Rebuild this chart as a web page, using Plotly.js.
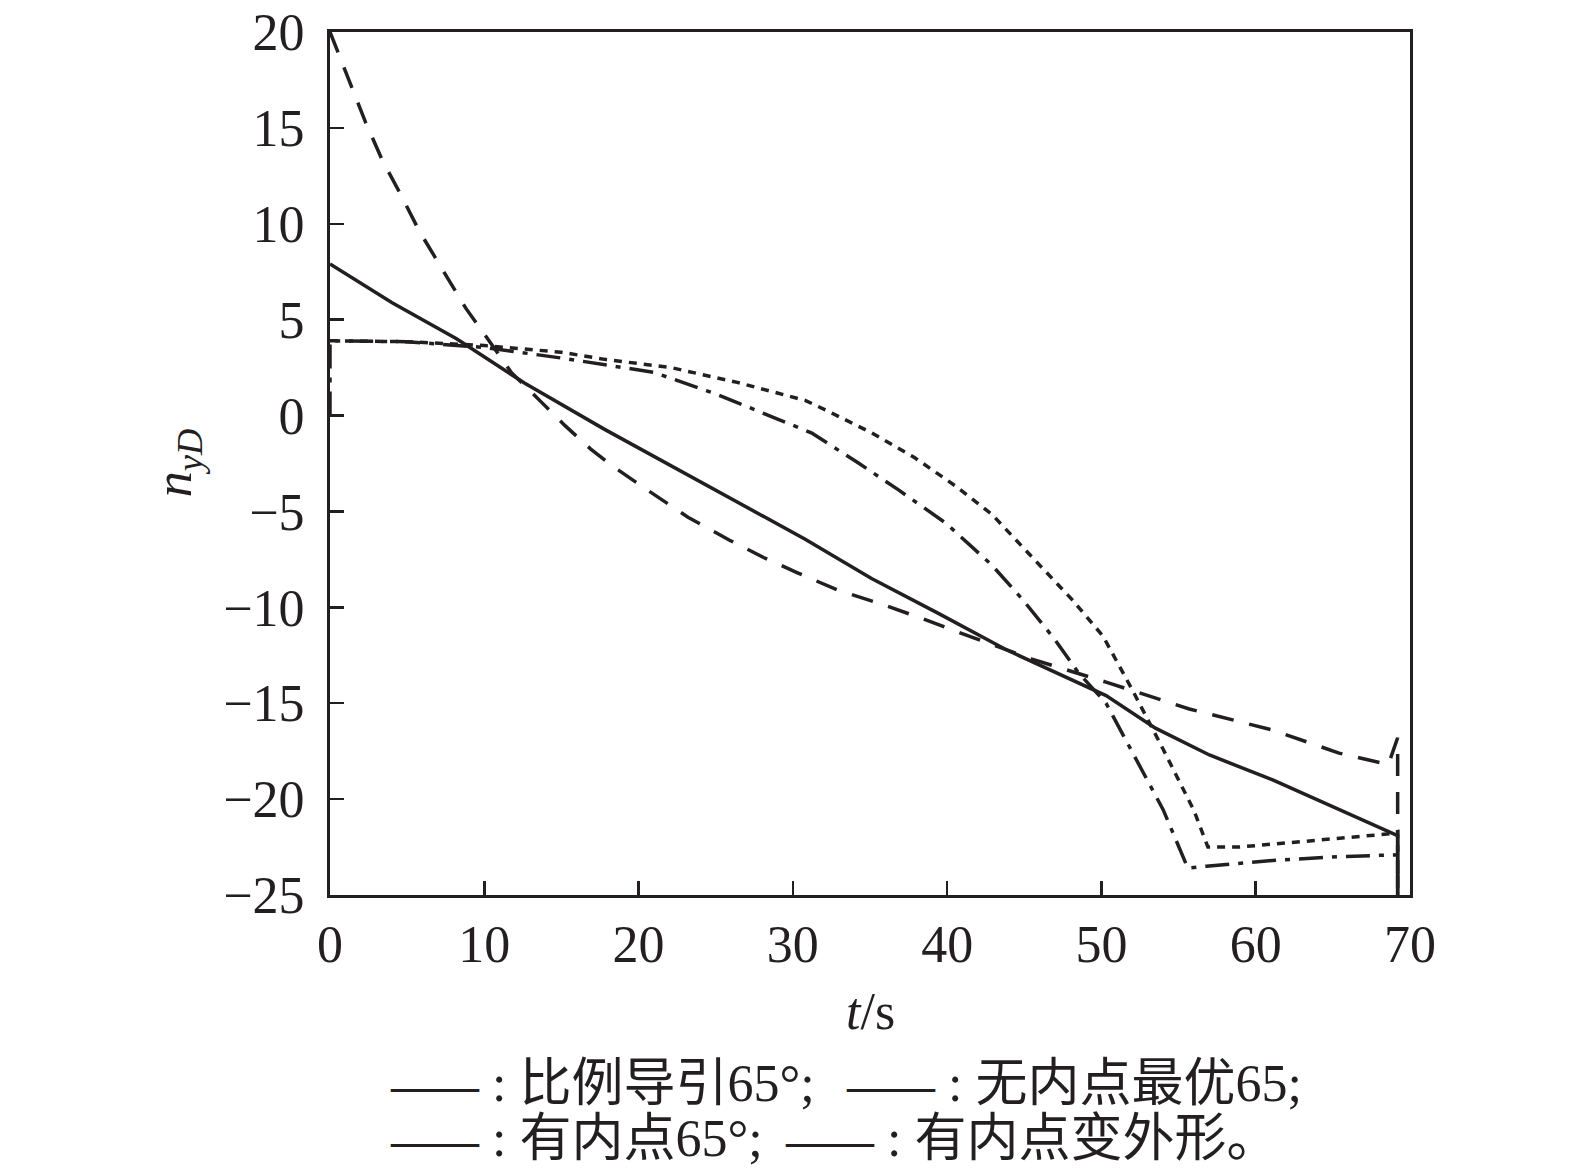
<!DOCTYPE html>
<html>
<head>
<meta charset="utf-8">
<script src="https://cdn.plot.ly/plotly-3.0.1.min.js"></script>
<style>
  html, body { margin: 0; padding: 0; background: #fff; }
  #chart { width: 1575px; height: 1169px; }
</style>
</head>
<body>
<div id="chart"></div>
<script>
// values (t in s, n_yD)
var tSolid = [0, 4, 8.2, 12.6, 17.8, 22.1, 26.4, 30.8, 35.1, 39.4, 43.8, 47, 50.3, 53.5, 57, 61.1, 65, 68.6, 69.2, 69.2];
var nSolid = [7.9, 5.9, 4.0, 1.7, -0.72, -2.6, -4.5, -6.45, -8.5, -10.3, -12.2, -13.4, -14.6, -16.3, -17.7, -19.0, -20.4, -21.7, -21.9, -25.5];

var tDash = [0, 1.35, 2.3, 3.4, 4.6, 5.8, 7.3, 8.8, 10.4, 11.75, 13.7, 15.2, 16.9, 18.25, 20.6, 23.2, 25.9, 28.1, 30.3, 32.9, 35.8, 38.1, 40.4, 45.5, 50.3, 55.7, 61.1, 65.4, 68.6, 69.2, 69.2];
var nDash = [20, 17.2, 15.3, 13.3, 11.5, 9.6, 7.6, 5.6, 3.8, 2.25, 0.7, -0.5, -1.75, -2.6, -3.9, -5.3, -6.5, -7.4, -8.2, -9.1, -9.85, -10.5, -11.2, -12.7, -13.9, -15.3, -16.4, -17.6, -18.2, -16.8, -25.5];

var tDashDot = [0, 0, 5, 10, 15, 21, 25.1, 27.5, 31.2, 34.2, 36.8, 39.9, 42.9, 44.9, 47, 48.5, 50.3, 54, 55.6, 56.8, 61.1, 65.4, 68.5, 69.2, 69.2];
var nDashDot = [0, 3.9, 3.85, 3.55, 3.0, 2.25, 1.1, 0.3, -0.9, -2.45, -3.85, -5.6, -7.8, -9.6, -11.7, -13.4, -15.0, -20.55, -23.6, -23.5, -23.2, -23.0, -22.9, -22.9, -25.5];

var tDot = [0, 5, 10, 15, 17.8, 22.1, 26.4, 30.8, 32.1, 35.1, 37.9, 40.5, 42.9, 45.9, 48.1, 50.1, 52, 54, 56, 56.9, 58.9, 63.2, 67.6, 68.8, 69.2, 69.2];
var nDot = [3.9, 3.85, 3.65, 3.3, 2.93, 2.5, 1.73, 0.79, 0.3, -0.9, -2.2, -3.65, -5.15, -7.7, -9.6, -11.5, -14.3, -17.4, -20.6, -22.5, -22.5, -22.2, -21.9, -21.8, -21.7, -25.5];

var xTicks = [0, 10, 20, 30, 40, 50, 60, 70];
var yTicks = [20, 15, 10, 5, 0, -5, -10, -15, -20, -25];

var legendItems = ['比例导引65°;', '无内点最优65;', '有内点65°;', '有内点变外形。'];

var serif = 'Liberation Serif, Times New Roman, serif';
var cjk = 'Liberation Serif, Noto Sans CJK SC, serif';

function trace(x, y, dash, name) {
    return {
        x: x,
        y: y,
        type: 'scatter',
        mode: 'lines',
        name: name,
        line: { color: '#231f20', width: 3.5, dash: dash },
        hoverinfo: 'skip'
    };
}

var plotlyData = [
    trace(tSolid, nSolid, 'solid', legendItems[0]),
    trace(tDash, nDash, '22px,16px', legendItems[1]),
    trace(tDashDot, nDashDot, '24px,9px,5px,9px', legendItems[2]),
    trace(tDot, nDot, '8px,7px', legendItems[3])
];

// legend is drawn as text under the chart, like the reference
function legendText(i) {
    return '<b><span style="font-size:44px">——</span></b> : ' + legendItems[i];
}

// axis settings shared by both axes
function axis(range, ticks, standoff) {
    return {
        range: range,
        tickvals: ticks,
        ticks: 'inside',
        ticklen: 14,
        tickwidth: 2.5,
        tickcolor: '#231f20',
        ticklabelstandoff: standoff,
        showline: true,
        linewidth: 3,
        linecolor: '#231f20',
        mirror: true,
        showgrid: false,
        zeroline: false,
        tickfont: { family: serif, size: 52 }
    };
}

var plotlyLayout = {
    width: 1575,
    height: 1169,
    showlegend: false,
    paper_bgcolor: '#ffffff',
    plot_bgcolor: '#ffffff',
    margin: { l: 330, r: 165, t: 32, b: 274 },
    font: { family: serif, size: 48, color: '#231f20' },
    xaxis: axis([0, 70], xTicks, 2),
    yaxis: axis([-25, 20], yTicks, 12),
    annotations: [
        {
            text: '<i>n</i><sub><i>yD</i></sub>',
            xref: 'paper', yref: 'paper',
            x: -0.141, y: 0.5,
            xanchor: 'center', yanchor: 'middle',
            textangle: -90,
            showarrow: false,
            font: { family: serif, size: 52 }
        },
        {
            text: '<i>t</i>/s',
            xref: 'paper', yref: 'paper',
            x: 0.5, y: -0.135,
            xanchor: 'center', yanchor: 'middle',
            showarrow: false,
            font: { family: serif, size: 52 }
        },
        {
            text: legendText(0),
            xref: 'paper', yref: 'paper',
            x: 0.0535, y: -0.218,
            xanchor: 'left', yanchor: 'middle',
            showarrow: false,
            font: { family: cjk, size: 52 }
        },
        {
            text: legendText(1),
            xref: 'paper', yref: 'paper',
            x: 0.4756, y: -0.218,
            xanchor: 'left', yanchor: 'middle',
            showarrow: false,
            font: { family: cjk, size: 52 }
        },
        {
            text: legendText(2),
            xref: 'paper', yref: 'paper',
            x: 0.0535, y: -0.282,
            xanchor: 'left', yanchor: 'middle',
            showarrow: false,
            font: { family: cjk, size: 52 }
        },
        {
            text: legendText(3),
            xref: 'paper', yref: 'paper',
            x: 0.4199, y: -0.282,
            xanchor: 'left', yanchor: 'middle',
            showarrow: false,
            font: { family: cjk, size: 52 }
        }
    ]
};

var plotlyConfig = { displayModeBar: false, staticPlot: true };

Plotly.newPlot('chart', plotlyData, plotlyLayout, plotlyConfig);
</script>
</body>
</html>
